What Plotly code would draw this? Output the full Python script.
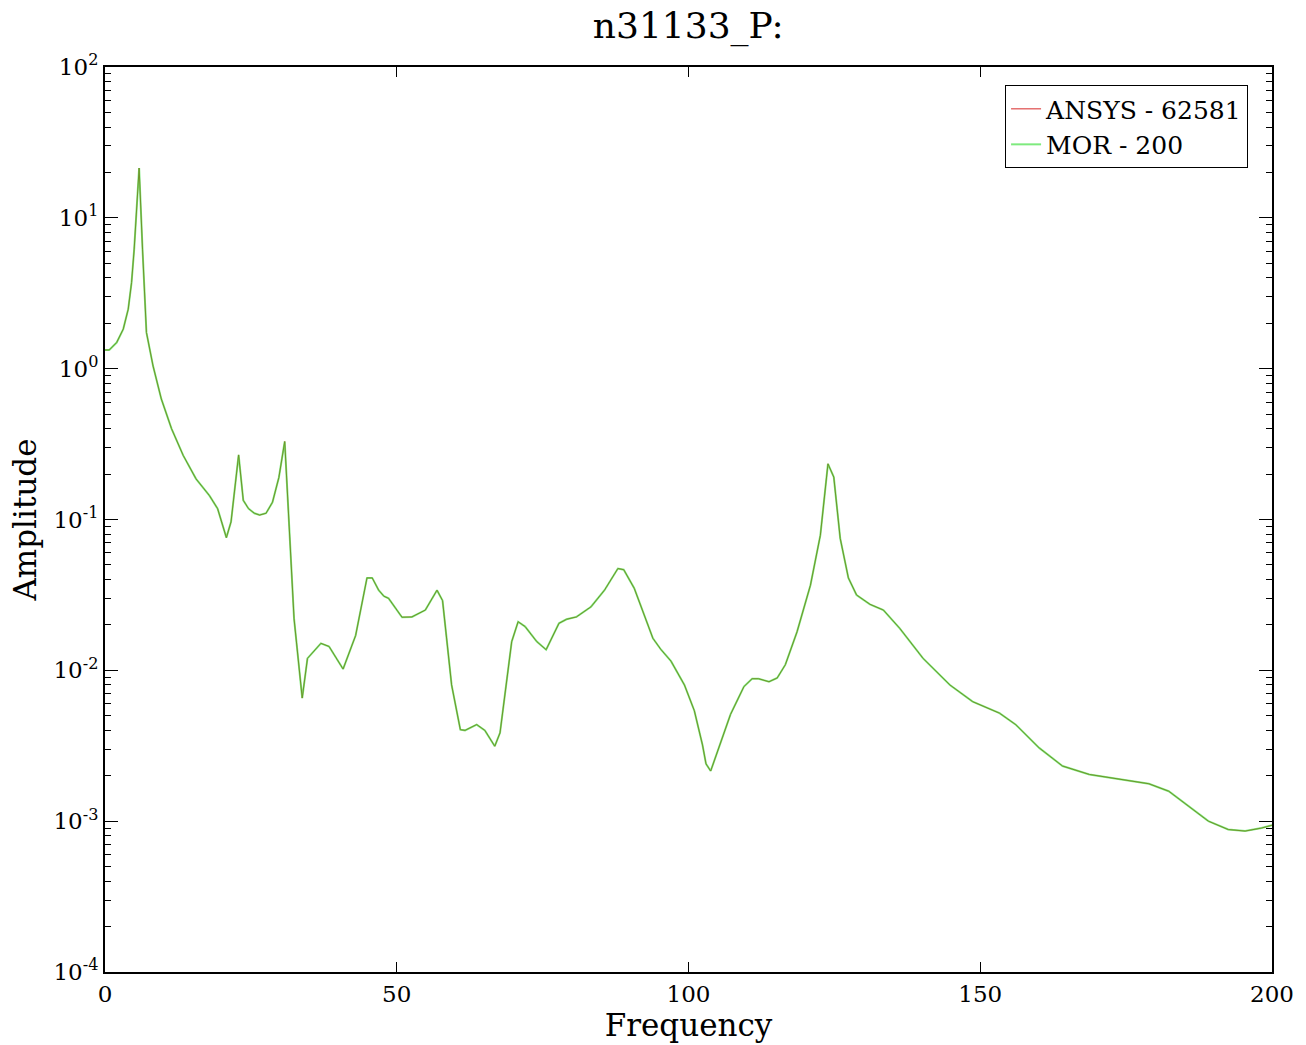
import plotly.graph_objects as go

freq = [0, 0.73, 2.0, 3.13, 3.98, 4.55, 5.0, 5.85, 6.43, 6.7, 7.1, 8.24, 9.65, 11.4, 13.4,
        15.6, 17.9, 19.3, 20.2, 20.8, 21.6, 22.9, 23.7, 24.6, 25.6, 26.5, 27.6, 28.7, 29.8,
        30.8, 32.4, 33.8, 34.7, 37.0, 38.4, 40.8, 42.95, 44.9, 45.8, 46.9, 47.8,
        48.6, 50.9, 52.6, 54.9, 56.9, 57.85, 59.4, 60.9, 61.7, 63.7, 65.1, 66.8, 67.7, 69.7,
        70.8, 72.0, 74.0, 75.6, 77.8, 79.1, 80.8, 83.3, 85.6, 87.9, 88.9, 90.7, 92.4, 93.9,
        95.3, 97.0, 99.3, 101.0, 102.4, 103.0, 103.8, 105.2, 107.2, 109.5, 110.9, 112.0,
        113.8, 115.2, 116.6, 118.6, 120.9, 122.6, 123.4, 123.9, 124.9, 126.0, 127.4, 128.8,
        131.1, 133.4, 136.2, 140.2, 144.8, 148.7, 153.3, 156.1, 160.1, 164.1, 168.7, 174.3,
        178.9, 182.3, 185.7, 189.1, 192.5, 195.4, 198.2, 200.0]
amp = [1.33, 1.33, 1.49, 1.83, 2.48, 3.72, 6.2, 21.4, 6.2, 3.36, 1.74, 1.04, 0.63, 0.40, 0.266,
       0.186, 0.144, 0.118, 0.0916, 0.0758, 0.0964, 0.268, 0.134, 0.118, 0.11, 0.107, 0.11,
       0.13, 0.19, 0.329, 0.022, 0.00655, 0.012, 0.0151, 0.0144, 0.0102, 0.017, 0.041,
       0.041, 0.034, 0.031, 0.030, 0.0225, 0.0226, 0.0251, 0.034, 0.029, 0.008, 0.00404, 0.004,
       0.00437, 0.004, 0.00314, 0.00385, 0.0155, 0.021, 0.0195, 0.0155, 0.0137, 0.0205, 0.0218,
       0.0226, 0.0264, 0.034, 0.0473, 0.0465, 0.035, 0.0233, 0.0163, 0.0137, 0.0115, 0.008,
       0.0054, 0.0032, 0.0024, 0.00215, 0.00306, 0.0051, 0.0078, 0.0088, 0.0088, 0.0084, 0.0089,
       0.0109, 0.018, 0.0367, 0.0787, 0.145, 0.234, 0.191, 0.075, 0.041, 0.0316, 0.0274, 0.0251,
       0.019, 0.012, 0.008, 0.0062, 0.0052, 0.00436, 0.00306, 0.00232, 0.00204, 0.00189, 0.00177,
       0.00158, 0.00126, 0.001, 0.00088, 0.00086, 0.0009, 0.00094]

y_tickvals = [1e-4, 1e-3, 1e-2, 1e-1, 1e0, 1e1, 1e2]
y_ticktext = ["10<sup>-4</sup>", "10<sup>-3</sup>", "10<sup>-2</sup>", "10<sup>-1</sup>",
              "10<sup>0</sup>", "10<sup>1</sup>", "10<sup>2</sup>"]
x_tickvals = [0, 50, 100, 150, 200]

FONT = "DejaVu Serif"

fig = go.Figure()
fig.add_trace(go.Scatter(x=freq, y=amp, mode="lines", name="ANSYS - 62581",
                         line=dict(color="rgb(215,40,40)", width=1)))
fig.add_trace(go.Scatter(x=freq, y=amp, mode="lines", name="MOR - 200",
                         line=dict(color="rgba(40,220,40,0.6)", width=2)))

axis_common = dict(showline=True, linecolor="black", linewidth=2, mirror="allticks",
                   ticks="inside", tickcolor="black", showgrid=False, zeroline=False,
                   tickfont=dict(family=FONT, size=23, color="black"))

fig.update_layout(
    width=1306, height=1045,
    margin=dict(l=105, r=27, t=67, b=71),
    paper_bgcolor="white", plot_bgcolor="white",
    title=dict(text="n31133_P:", x=0.527, xanchor="center", y=0.976, yanchor="middle",
               font=dict(family=FONT, size=36, color="black")),
    xaxis=dict(range=[0, 200], tickvals=x_tickvals, ticklen=10, tickwidth=1,
               title=dict(text="Frequency", font=dict(family=FONT, size=31, color="black"),
                          standoff=5),
               **axis_common),
    yaxis=dict(type="log", range=[-4, 2], tickvals=y_tickvals, ticktext=y_ticktext,
               ticklen=13, tickwidth=1,
               minor=dict(ticks="inside", ticklen=6, tickcolor="black", dtick="D1",
                          showgrid=False),
               title=dict(text="Amplitude", font=dict(family=FONT, size=31, color="black"),
                          standoff=8),
               **axis_common),
    legend=dict(x=0.9795, y=0.98, xanchor="right", yanchor="top",
                bordercolor="black", borderwidth=1, bgcolor="white",
                font=dict(family=FONT, size=25, color="black"),
                tracegroupgap=0),
    showlegend=True,
)

fig.write_html("out.html", config={"displayModeBar": False},
               post_script="document.body.style.margin='0';document.body.style.overflow='hidden';")
